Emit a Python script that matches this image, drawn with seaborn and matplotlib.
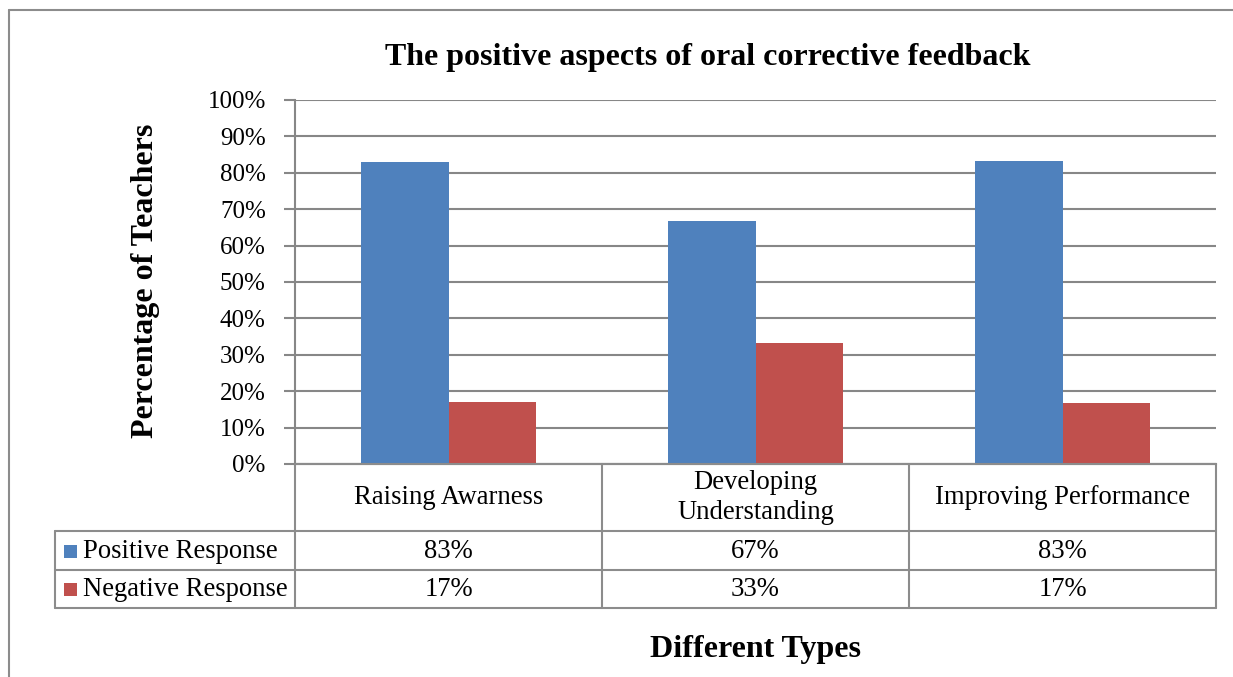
import matplotlib
matplotlib.use("Agg")
import matplotlib.pyplot as plt
import matplotlib.transforms as mtransforms
from matplotlib.lines import Line2D
from matplotlib.patches import Rectangle
import seaborn as sns
import pandas as pd

categories = ["Raising Awarness", "Developing\nUnderstanding", "Improving Performance"]
series_names = ["Positive Response", "Negative Response"]
positive = [0.83, 0.667, 0.833]
negative = [0.17, 0.333, 0.167]
table_positive = ["83%", "67%", "83%"]
table_negative = ["17%", "33%", "17%"]
colors = ["#4F81BD", "#C0504D"]
yticks = [0, 0.1, 0.2, 0.3, 0.4, 0.5, 0.6, 0.7, 0.8, 0.9, 1.0]
ytick_labels = [f"{int(round(t*100))}%" for t in yticks]

sns.set_style("white")
plt.rcParams["font.family"] = ["Liberation Serif", "DejaVu Serif"]
plt.rcParams["text.color"] = "black"
plt.rcParams["ytick.labelcolor"] = "black"

W, H = 1233, 677
fig = plt.figure(figsize=(W / 100, H / 100), dpi=100)

def fx(x):
    return x / W

def fy(y):
    return 1 - y / H

ax = fig.add_axes([fx(295), fy(464), fx(1216) - fx(295), fy(100) - fy(464)])

df = pd.DataFrame({
    "Category": categories * 2,
    "Series": [series_names[0]] * 3 + [series_names[1]] * 3,
    "Value": positive + negative,
})
sns.barplot(data=df, x="Category", y="Value", hue="Series", order=categories,
            hue_order=series_names, palette=colors, width=0.57, saturation=1,
            edgecolor="none", ax=ax, legend=False, zorder=3)

grid_c = "#878787"
fs = 19.2
ax.set_ylim(0, 1.0)
ax.set_xlim(-0.5, 2.5)
ax.set_yticks(yticks)
ax.set_yticklabels(ytick_labels, fontsize=18, color="black")
ax.yaxis.grid(True, color=grid_c, linewidth=1.5, zorder=0)
ax.set_axisbelow(True)
ax.set_xticks([])
ax.set_xlabel("")
ax.set_ylabel("")
for s in ["top", "right"]:
    ax.spines[s].set_visible(False)
ax.spines["left"].set_color(grid_c)
ax.spines["left"].set_linewidth(1.5)
ax.spines["bottom"].set_color(grid_c)
ax.spines["bottom"].set_linewidth(1.5)
ax.tick_params(axis="y", length=8, width=1.5, color=grid_c, pad=13, left=True)

# data table below the axes
blend = mtransforms.blended_transform_factory(ax.transData, fig.transFigure)
tc = "#8C8C8C"
lw = 1.5
y0, y1, y2, y3 = fy(464), fy(531), fy(570), fy(608)
for xb in [-0.5, 0.5, 1.5, 2.5]:
    fig.add_artist(Line2D([xb, xb], [y0, y3], transform=blend, color=tc, lw=lw))
fig.add_artist(Line2D([-0.5, 2.5], [y0, y0], transform=blend, color=tc, lw=lw))
for yy in [y1, y2, y3]:
    fig.add_artist(Line2D([fx(55), fx(1216)], [yy, yy], transform=fig.transFigure, color=tc, lw=lw))
fig.add_artist(Line2D([fx(55), fx(55)], [y1, y3], transform=fig.transFigure, color=tc, lw=lw))

for i, cat in enumerate(categories):
    fig.text(i, (y0 + y1) / 2, cat, transform=blend, ha="center", va="center",
             fontsize=fs, linespacing=1.25)
    fig.text(i, (y1 + y2) / 2 - 1 / H, table_positive[i], transform=blend, ha="center",
             va="center", fontsize=fs)
    fig.text(i, (y2 + y3) / 2 - 1 / H, table_negative[i], transform=blend, ha="center",
             va="center", fontsize=fs)

for j, (name, yc) in enumerate(zip(series_names, [(y1 + y2) / 2, (y2 + y3) / 2])):
    fig.add_artist(Rectangle((fx(64), yc - 7 / H), 13 / W, 13 / H,
                             transform=fig.transFigure, color=colors[j], lw=0))
    fig.text(fx(83), yc - 1 / H, name, ha="left", va="center", fontsize=fs)

# titles
fig.text(fx(708), fy(58), "The positive aspects of oral corrective feedback",
         ha="center", va="center", fontsize=23, fontweight="bold")
fig.text(fx(145), fy(281), "Percentage of Teachers", ha="center", va="center",
         rotation=90, fontsize=23, fontweight="bold")
fig.text(fx(756), fy(650), "Different Types", ha="center", va="center",
         fontsize=23, fontweight="bold")

# outer chart frame
fig.add_artist(Line2D([fx(9), fx(1233)], [fy(10), fy(10)], transform=fig.transFigure,
                      color="#8C8C8C", lw=1.5))
fig.add_artist(Line2D([fx(9), fx(9)], [fy(10), fy(677)], transform=fig.transFigure,
                      color="#8C8C8C", lw=1.5))

fig.savefig("out.png", dpi=100, facecolor="white")
